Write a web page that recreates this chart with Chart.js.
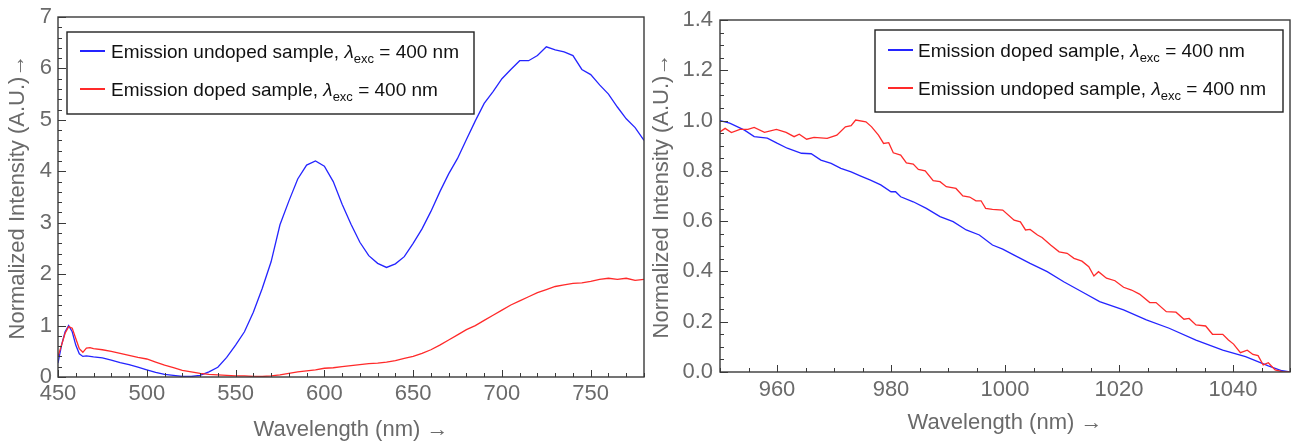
<!DOCTYPE html>
<html><head><meta charset="utf-8">
<script src="https://cdn.jsdelivr.net/npm/chart.js@4"></script>
<style>
html,body{margin:0;padding:0;background:#fff;}
#wrap{position:relative;width:1303px;height:448px;overflow:hidden;background:#fff;}
canvas{position:absolute;top:0;}
</style></head><body>
<div id="wrap">
<canvas id="left" width="650" height="448" style="left:0;width:650px;height:448px"></canvas>
<canvas id="right" width="658" height="448" style="left:645px;width:658px;height:448px"></canvas>
</div>
<script>
// ---------- data: left panel ----------
const leftWavelengths = [450,452,454,456,458,460,462,464,466,468,470,
  475,480,485,490,495,500,505,510,515,520,525,530,535,540,545,550,555,560,565,570,
  575,580,585,590,595,600,605,610,615,620,625,630,635,640,645,650,655,660,665,670,
  675,680,685,690,695,700,705,710,715,720,725,730,735,740,745,750,755,760,765,770,775,780];
const leftUndoped = [0.27,0.62,0.88,1.0,0.88,0.62,0.45,0.4,0.41,0.4,0.39,
  0.37,0.33,0.28,0.24,0.19,0.14,0.09,0.05,0.03,0.01,0.01,0.03,0.1,0.19,0.38,0.62,0.88,1.26,1.72,2.24,
  2.96,3.42,3.85,4.12,4.2,4.1,3.8,3.36,2.97,2.62,2.36,2.21,2.13,2.2,2.34,2.6,2.88,3.22,3.6,3.95,
  4.25,4.62,4.98,5.32,5.55,5.8,5.98,6.15,6.15,6.25,6.42,6.36,6.32,6.25,5.98,5.88,5.68,5.5,5.25,5.02,4.85,4.6];
const leftDoped = [0.4,0.62,0.85,0.98,0.95,0.75,0.55,0.48,0.56,0.57,0.55,
  0.53,0.5,0.46,0.42,0.38,0.35,0.29,0.23,0.18,0.13,0.1,0.07,0.05,0.04,0.03,0.02,0.02,0.01,0.01,0.02,
  0.04,0.07,0.1,0.12,0.14,0.17,0.18,0.2,0.22,0.24,0.26,0.27,0.29,0.32,0.36,0.4,0.46,0.53,0.62,0.72,
  0.82,0.92,1.0,1.1,1.2,1.3,1.4,1.48,1.56,1.64,1.7,1.76,1.79,1.82,1.83,1.86,1.9,1.92,1.9,1.92,1.88,1.9];

// ---------- data: right panel ----------
const rightWlDoped = [950,951.7,954.3,956,958.3,960,961.8,964.3,966,967.7,969.5,971.2,973,974.7,976.4,
  978.2,980,980.8,981.7,983.9,986.2,988.6,990.9,993.2,995.5,997.8,999.6,1001.6,1004.4,1007.4,
  1010.3,1013.8,1016.6,1020.8,1024.8,1028.8,1033.5,1038.2,1042.2,1046.2,1048.6,1050];
const rightDoped = [1.0,0.99,0.962,0.936,0.93,0.91,0.89,0.87,0.868,0.843,0.83,0.81,0.796,0.779,0.763,
  0.744,0.717,0.717,0.697,0.677,0.651,0.618,0.598,0.565,0.545,0.505,0.489,0.465,0.432,0.399,
  0.359,0.315,0.28,0.247,0.207,0.174,0.127,0.087,0.061,0.024,0.005,0.0];
const rightWlUndoped = [950,950.9,952,953.5,954.9,956,957.8,959.9,961.6,963,963.9,965.2,966.5,968.8,970.5,
  972,973,973.8,975.6,976.6,977.8,978.7,979.6,980.4,981.7,982.7,983.9,984.8,986,987.4,
  988.6,989.7,991.4,992.6,993.8,994.9,995.8,996.6,997.8,999.6,1001.6,1002.7,1003.6,1004.4,1005.7,
  1006.5,1008,1009.5,1010.9,1012.1,1013.5,1014.7,1015.6,1016.4,1017.8,1019.3,1020.8,1022.2,1023.6,1025.4,
  1026.5,1028.3,1030,1031.4,1032.3,1033.5,1035.2,1036.4,1038.2,1039.2,1040.1,1041.3,1042.5,1043.5,1044.4,
  1045.3,1046.2,1047.4,1048.8,1050];
const rightUndoped = [0.955,0.969,0.952,0.965,0.965,0.973,0.953,0.965,0.953,0.936,0.946,0.926,0.933,0.929,0.942,
  0.975,0.98,1.002,0.995,0.975,0.942,0.909,0.912,0.872,0.863,0.832,0.827,0.806,0.8,0.761,
  0.757,0.737,0.73,0.7,0.696,0.681,0.681,0.651,0.647,0.644,0.604,0.597,0.565,0.567,0.545,
  0.535,0.505,0.478,0.472,0.452,0.441,0.419,0.382,0.399,0.373,0.363,0.337,0.326,0.31,0.276,
  0.276,0.24,0.238,0.21,0.213,0.187,0.183,0.15,0.15,0.127,0.111,0.077,0.087,0.07,0.065,
  0.028,0.037,0.008,0.0,0.0];

// ---------- tick labels ----------
const leftXLabels = [450,500,550,600,650,700,750];
const leftYLabels = [0,1,2,3,4,5,6,7];
const rightXLabels = [960,980,1000,1020,1040];
const rightYLabels = [0.0,0.2,0.4,0.6,0.8,1.0,1.2,1.4];

// ---------- texts ----------
const xTitle = 'Wavelength (nm) \u2192';
const yTitle = 'Normalized Intensity (A.U.)\u2192';
const leftNames = ['Emission undoped sample', 'Emission doped sample'];
const rightNames = ['Emission doped sample', 'Emission undoped sample'];
const excText = {sym: '\u03BB', sub: 'exc', post: ' = 400 nm'};

const FONT = '"Liberation Sans", Arial, sans-serif';
const BLUE = '#2424ff';
const RED = '#ff2a2a';
const GRAY = '#6a6a6a';

function isIn(list, v) { return list.some(l => Math.abs(l - v) < 1e-6); }

function framePlugin(xMajor, yMajor) {
  return {
    id: 'frameTicks',
    afterDatasetsDraw(chart) {
      const {ctx, chartArea: a, scales} = chart;
      const xs = scales.x, ys = scales.y;
      ctx.save();
      ctx.strokeStyle = '#3a3a3a';
      ctx.lineWidth = 1;
      xs.ticks.forEach(t => {
        const p = Math.round(xs.getPixelForValue(t.value)) + 0.5;
        const len = isIn(xMajor, t.value) ? 7 : 4;
        ctx.beginPath(); ctx.moveTo(p, a.bottom); ctx.lineTo(p, a.bottom - len); ctx.stroke();
      });
      ys.ticks.forEach(t => {
        const p = Math.round(ys.getPixelForValue(t.value)) + 0.5;
        const len = isIn(yMajor, t.value) ? 8 : 4;
        ctx.beginPath(); ctx.moveTo(a.left, p); ctx.lineTo(a.left + len, p); ctx.stroke();
      });
      ctx.lineWidth = 1.4;
      ctx.strokeRect(a.left, a.top, a.right - a.left, a.bottom - a.top);
      ctx.restore();
    }
  };
}

function legendPlugin(names, cfg) {
  return {
    id: 'boxLegend',
    afterDraw(chart) {
      const {ctx, chartArea: a} = chart;
      const bx = cfg.right != null ? a.right - cfg.right - cfg.w : a.left + cfg.left;
      const by = a.top + cfg.top;
      ctx.save();
      ctx.fillStyle = '#fff';
      ctx.fillRect(bx, by, cfg.w, cfg.h);
      ctx.strokeStyle = '#222';
      ctx.lineWidth = 1.4;
      ctx.strokeRect(bx, by, cfg.w, cfg.h);
      chart.data.datasets.forEach((ds, i) => {
        const y = by + cfg.row0 + i * cfg.gap;
        ctx.strokeStyle = ds.borderColor;
        ctx.lineWidth = 2;
        ctx.beginPath(); ctx.moveTo(bx + 13, y); ctx.lineTo(bx + 38, y); ctx.stroke();
        let x = bx + cfg.textX;
        const base = y + 7;
        ctx.fillStyle = '#111';
        ctx.textBaseline = 'alphabetic';
        ctx.textAlign = 'left';
        ctx.font = '19px ' + FONT;
        const t1 = names[i] + ', ';
        ctx.fillText(t1, x, base); x += ctx.measureText(t1).width;
        ctx.font = 'italic 19px ' + FONT;
        ctx.fillText(excText.sym, x, base); x += ctx.measureText(excText.sym).width;
        ctx.font = '13px ' + FONT;
        ctx.fillText(excText.sub, x, base + 5); x += ctx.measureText(excText.sub).width;
        ctx.font = '19px ' + FONT;
        ctx.fillText(excText.post, x, base);
      });
      ctx.restore();
    }
  };
}

function makeChart(id, o) {
  return new Chart(document.getElementById(id), {
    type: 'line',
    data: { datasets: o.datasets },
    options: {
      responsive: false, animation: false, devicePixelRatio: 1,
      layout: { padding: o.padding },
      plugins: { legend: { display: false }, tooltip: { enabled: false } },
      elements: { point: { radius: 0 }, line: { borderWidth: 1.3, tension: 0 } },
      scales: {
        x: {
          type: 'linear', min: o.xMin, max: o.xMax,
          grid: { display: false, drawTicks: false },
          border: { display: false },
          afterFit: s => { s.height = o.xHeight; },
          ticks: {
            stepSize: o.xStep, autoSkip: false, maxRotation: 0, minRotation: 0,
            padding: o.xPad, color: GRAY,
            font: { family: FONT, size: 22, lineHeight: 1 },
            callback: v => isIn(o.xLabels, v) ? String(Math.round(v)) : ''
          },
          title: { display: true, text: xTitle, color: GRAY,
            font: { family: FONT, size: 22 }, padding: { top: 0, bottom: o.xTitlePad } }
        },
        y: {
          type: 'linear', min: o.yMin, max: o.yMax,
          grid: { display: false, drawTicks: false },
          border: { display: false },
          afterFit: s => { s.width = o.yWidth; },
          ticks: {
            stepSize: o.yStep, autoSkip: false, padding: o.yPad, color: GRAY,
            font: { family: FONT, size: 22, lineHeight: 1 },
            callback: v => isIn(o.yLabels, v) ? o.yFmt(v) : ''
          },
          title: { display: true, text: yTitle, color: GRAY,
            font: { family: FONT, size: 22 }, padding: { top: o.yTitlePad, bottom: 0 } }
        }
      }
    },
    plugins: [framePlugin(o.xLabels, o.yLabels), legendPlugin(o.names, o.legend)]
  });
}

makeChart('left', {
  datasets: [
    { label: leftNames[0] + ', \u03BBexc = 400 nm', borderColor: BLUE, order: 1,
      data: leftWavelengths.map((x, i) => ({ x, y: leftUndoped[i] })) },
    { label: leftNames[1] + ', \u03BBexc = 400 nm', borderColor: RED, order: 0,
      data: leftWavelengths.map((x, i) => ({ x, y: leftDoped[i] })) }
  ],
  names: leftNames,
  padding: { top: 12, right: 3, left: 0, bottom: 0 },
  xMin: 450, xMax: 780, xStep: 10, xLabels: leftXLabels, xHeight: 71, xPad: 6, xTitlePad: 5,
  yMin: 0, yMax: 7, yStep: 0.2, yLabels: leftYLabels, yWidth: 58, yPad: 6, yTitlePad: 5,
  yFmt: v => String(Math.round(v)),
  legend: { left: 9, top: 15, w: 407, h: 82, row0: 19, gap: 38, textX: 44 }
});

makeChart('right', {
  datasets: [
    { label: rightNames[0] + ', \u03BBexc = 400 nm', borderColor: BLUE, order: 1,
      data: rightWlDoped.map((x, i) => ({ x, y: rightDoped[i] })) },
    { label: rightNames[1] + ', \u03BBexc = 400 nm', borderColor: RED, order: 0,
      data: rightWlUndoped.map((x, i) => ({ x, y: rightUndoped[i] })) }
  ],
  names: rightNames,
  padding: { top: 20, right: 13, left: 0, bottom: 0 },
  xMin: 950, xMax: 1050, xStep: 5, xLabels: rightXLabels, xHeight: 76, xPad: 7, xTitlePad: 12,
  yMin: 0, yMax: 1.4, yStep: 0.05, yLabels: rightYLabels, yWidth: 75, yPad: 7, yTitlePad: 4,
  yFmt: v => v.toFixed(1),
  legend: { right: 7, top: 10, w: 408, h: 82, row0: 20, gap: 38, textX: 43 }
});
</script>
</body></html>
